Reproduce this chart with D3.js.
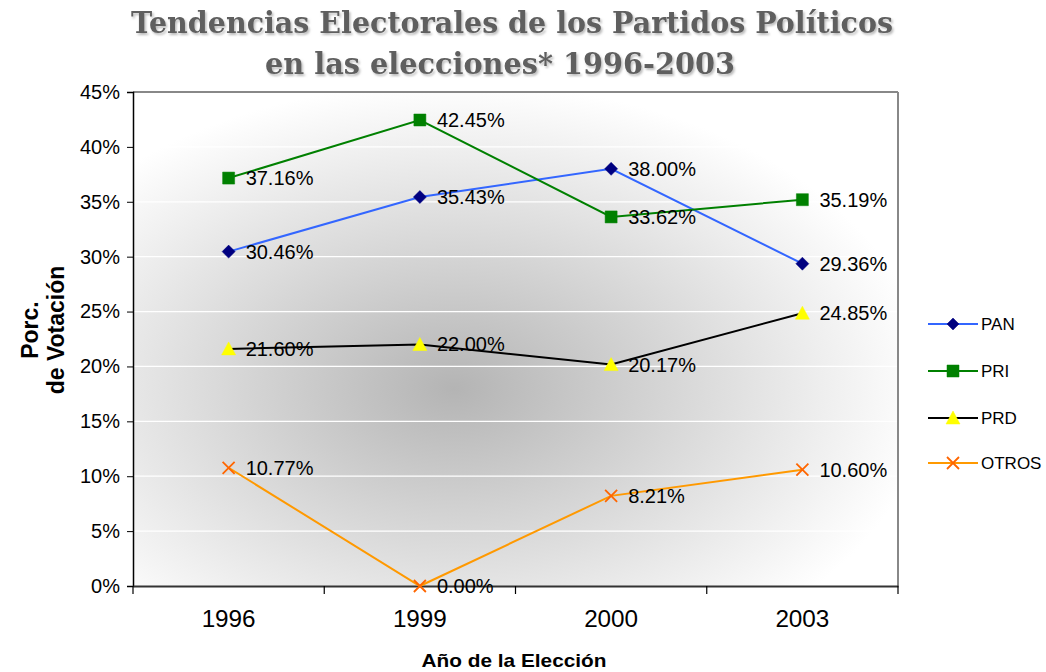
<!DOCTYPE html>
<html><head><meta charset="utf-8">
<script src="https://cdn.jsdelivr.net/npm/d3@7"></script>
<style>body{margin:0;background:#fff;}svg{display:block;}</style>
</head><body>
<svg id="c" width="1046" height="672"></svg>
<script>
const years = ["1996","1999","2000","2003"];
const PAN = [30.46, 35.43, 38.00, 29.36];
const PRI = [37.16, 42.45, 33.62, 35.19];
const PRD = [21.60, 22.00, 20.17, 24.85];
const OTROS = [10.77, 0.00, 8.21, 10.60];
const seriesNames = ["PAN","PRI","PRD","OTROS"];
const yTicks = [0,5,10,15,20,25,30,35,40,45];

const series = [
  {name:"PAN", values:PAN, line:"#3366ff", fill:"#000080", sym:"diamond"},
  {name:"PRI", values:PRI, line:"#008000", fill:"#008000", sym:"square"},
  {name:"PRD", values:PRD, line:"#000000", fill:"#ffff00", sym:"triangle"},
  {name:"OTROS", values:OTROS, line:"#ff9900", fill:"#ff6600", sym:"x"}
];
const FONT = "Arial, 'Liberation Sans', sans-serif";

const svg = d3.select("#c");
const L=133, R=898, T=92, B=586;
const x = d3.scaleBand().domain(years).range([L,R]);
const y = d3.scaleLinear().domain([0,45]).range([B,T]);

const defs = svg.append("defs");
const g1 = defs.append("radialGradient").attr("id","bg").attr("cx","0.42").attr("cy","0.6").attr("r","0.62");
g1.append("stop").attr("offset","0%").attr("stop-color","#b4b4b4");
g1.append("stop").attr("offset","100%").attr("stop-color","#ffffff");
const f = defs.append("filter").attr("id","sh").attr("x","-5%").attr("y","-20%").attr("width","110%").attr("height","150%");
f.append("feDropShadow").attr("dx",1.5).attr("dy",2).attr("stdDeviation",1).attr("flood-color","#aaaaaa").attr("flood-opacity",0.8);

// title
const title = svg.append("g").attr("filter","url(#sh)")
  .attr("font-family","'DejaVu Serif', serif").attr("font-weight","bold")
  .attr("fill","#5e5e5e").attr("text-anchor","middle");
title.append("text").attr("x",512).attr("y",33).attr("font-size",29)
  .attr("textLength",762).attr("lengthAdjust","spacingAndGlyphs")
  .text("Tendencias Electorales de los Partidos Políticos");
title.append("text").attr("x",500).attr("y",74).attr("font-size",29)
  .attr("textLength",470).attr("lengthAdjust","spacingAndGlyphs")
  .text("en las elecciones* 1996-2003");

// plot background
svg.append("rect").attr("x",L).attr("y",T).attr("width",R-L).attr("height",B-T).attr("fill","url(#bg)");
// gridlines
svg.append("g").selectAll("line").data(yTicks.filter(d=>d>0&&d<45)).join("line")
  .attr("x1",L).attr("x2",R).attr("y1",d=>y(d)).attr("y2",d=>y(d))
  .attr("stroke","#ffffff").attr("stroke-width",1.2);
// border
svg.append("line").attr("x1",L).attr("x2",R).attr("y1",T).attr("y2",T).attr("stroke","#888").attr("stroke-width",2);
svg.append("line").attr("x1",R).attr("x2",R).attr("y1",T).attr("y2",B).attr("stroke","#888").attr("stroke-width",2);

// axes
const yAxis = d3.axisLeft(y).tickValues(yTicks).tickFormat(d=>d+"%").tickSize(6).tickPadding(7);
const ya = svg.append("g").attr("transform",`translate(${L},0)`).call(yAxis);
ya.select(".domain").attr("stroke","#000").attr("stroke-width",1.5);
ya.selectAll(".tick line").attr("stroke","#000");
ya.selectAll("text").attr("font-family",FONT).attr("font-size",20).attr("fill","#000");

const xAxis = d3.axisBottom(x).tickSize(0).tickPadding(25);
const xa = svg.append("g").attr("transform",`translate(0,${B})`).call(xAxis);
xa.select(".domain").attr("stroke","#333").attr("stroke-width",2);
xa.selectAll("text").attr("font-family",FONT).attr("font-size",23).attr("fill","#000")
  .attr("textLength",54).attr("lengthAdjust","spacingAndGlyphs");
// band boundary ticks
const bounds = years.map(d=>x(d)).concat([x(years[years.length-1])+x.bandwidth()]);
svg.append("g").selectAll("line").data(bounds).join("line")
  .attr("x1",d=>d).attr("x2",d=>d).attr("y1",B).attr("y2",B+8).attr("stroke","#000").attr("stroke-width",1.2);

// axis titles
const yt = svg.append("text").attr("transform","translate(42,330) rotate(-90)")
  .attr("text-anchor","middle").attr("font-family",FONT)
  .attr("font-weight","bold").attr("font-size",23).attr("fill","#000");
yt.append("tspan").attr("x",0).attr("dy",-4).text("Porc.");
yt.append("tspan").attr("x",0).attr("dy",26).text("de Votación");
svg.append("text").attr("x",514).attr("y",667).attr("text-anchor","middle")
  .attr("font-family",FONT).attr("font-weight","bold").attr("font-size",19)
  .attr("textLength",185).attr("lengthAdjust","spacingAndGlyphs")
  .text("Año de la Elección");

const cx = d=>x(d)+x.bandwidth()/2;
const line = d3.line().x((d,i)=>cx(years[i])).y(d=>y(d));

function drawMarker(sel, s, size){
  const h=size/2;
  let d;
  if(s.sym==="x"){
    sel.append("path").attr("d",`M${-h},${-h}L${h},${h}M${-h},${h}L${h},${-h}`)
      .attr("stroke",s.fill).attr("stroke-width",1.8).attr("fill","none");
    return;
  }
  if(s.sym==="diamond") d=`M0,${-h}L${h},0L0,${h}L${-h},0Z`;
  else if(s.sym==="square") d=`M${-h},${-h}H${h}V${h}H${-h}Z`;
  else d=`M0,${-h-1}L${h+1},${h}L${-h-1},${h}Z`;
  sel.append("path").attr("d",d).attr("fill",s.fill).attr("stroke",s.fill).attr("stroke-width",0.5);
}

const plot = svg.append("g");
series.forEach(s=>{
  plot.append("path").datum(s.values).attr("d",line).attr("fill","none")
    .attr("stroke",s.line).attr("stroke-width",2);
});
series.forEach(s=>{
  s.values.forEach((v,i)=>{
    const g = plot.append("g").attr("transform",`translate(${cx(years[i])},${y(v)})`);
    drawMarker(g,s,s.sym==="diamond"?13:12);
  });
});
series.forEach(s=>{
  plot.append("g").selectAll("text").data(s.values).join("text")
    .attr("x",(d,i)=>cx(years[i])+17).attr("y",d=>y(d)+7)
    .attr("font-family",FONT).attr("font-size",20).attr("fill","#000")
    .text(d=>d.toFixed(2)+"%");
});

// legend
const lg = svg.append("g");
const legY = [324,371,418,463];
series.forEach((s,i)=>{
  const g = lg.append("g").attr("transform",`translate(928,${legY[i]})`);
  g.append("line").attr("x1",0).attr("x2",50).attr("y1",0).attr("y2",0).attr("stroke",s.line).attr("stroke-width",2);
  const m = g.append("g").attr("transform","translate(25,0)");
  drawMarker(m,s,12);
  g.append("text").attr("x",53).attr("y",6).attr("font-family",FONT)
    .attr("font-size",17).attr("fill","#000").text(seriesNames[i]);
});
</script>
</body></html>
